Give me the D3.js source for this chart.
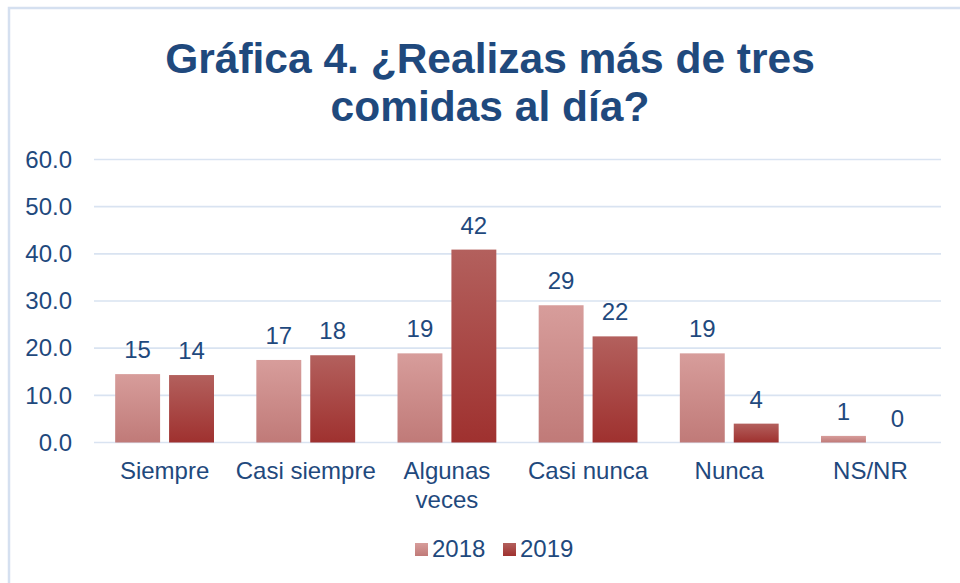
<!DOCTYPE html>
<html>
<head>
<meta charset="utf-8">
<script src="https://cdn.jsdelivr.net/npm/d3@7"></script>
<style>
    body { margin: 0; background: #fff; }
    text { font-family: "Liberation Sans", Arial, sans-serif; fill: #1f497d; }
</style>
</head>
<body>
<svg id="chart" width="960" height="583"></svg>
<script>
const categories = ['Siempre', 'Casi siempre', 'Algunas veces', 'Casi nunca', 'Nunca', 'NS/NR'];
const series = ['2018', '2019'];
const values2018 = [14.5, 17.5, 18.9, 29.1, 18.9, 1.4];
const values2019 = [14.3, 18.5, 40.9, 22.5, 4.0, 0];
const labels2018 = ['15', '17', '19', '29', '19', '1'];
const labels2019 = ['14', '18', '42', '22', '4', '0'];
const yTicks = [0, 10, 20, 30, 40, 50, 60];
const titleLines = ['Gráfica 4. ¿Realizas más de tres', 'comidas al día?'];

const FONT = '24px';
const colors = {
    text: '#1f497d',
    grid: '#d9e3f1',
    frame: '#d5e0f0'
};
const gradients = {
    '2018': ['#d79d9b', '#c07a78'],
    '2019': ['#b3605d', '#9f312f']
};

const svg = d3.select('#chart');

// frame, only top and left edges show in the picture
svg.append('rect')
    .attr('x', 9).attr('y', 8)
    .attr('width', 1000).attr('height', 1000)
    .attr('fill', 'none')
    .attr('stroke', colors.frame)
    .attr('stroke-width', 2.5);

const defs = svg.append('defs');
series.forEach(s => {
    let g = defs.append('linearGradient')
        .attr('id', 'grad' + s)
        .attr('x1', 0).attr('y1', 0).attr('x2', 0).attr('y2', 1);
    g.append('stop').attr('offset', '0%').attr('stop-color', gradients[s][0]);
    g.append('stop').attr('offset', '100%').attr('stop-color', gradients[s][1]);
});

// title
svg.append('text')
    .attr('x', 490).attr('y', 73)
    .attr('text-anchor', 'middle')
    .style('font-size', '42.5px')
    .style('font-weight', 'bold')
    .selectAll('tspan')
    .data(titleLines)
    .join('tspan')
    .attr('x', 490)
    .attr('dy', (d, i) => i ? 48 : 0)
    .text(d => d);

const plotLeft = 94, plotRight = 941, plotTop = 159.5, plotBottom = 442.5;

const y = d3.scaleLinear().domain([0, 60]).range([plotBottom, plotTop]);
const x0 = d3.scaleBand().domain(categories).range([plotLeft, plotRight])
    .paddingInner(0.3).paddingOuter(0.15);
const x1 = d3.scaleBand().domain(series).range([0, x0.bandwidth()])
    .paddingInner(0.1667);

// gridlines
svg.append('g')
    .selectAll('line')
    .data(yTicks)
    .join('line')
    .attr('x1', plotLeft).attr('x2', plotRight)
    .attr('y1', d => y(d)).attr('y2', d => y(d))
    .attr('stroke', colors.grid)
    .attr('stroke-width', 1.6);

// y axis labels
const yAxis = svg.append('g')
    .attr('transform', `translate(${plotLeft},0)`)
    .call(d3.axisLeft(y).tickValues(yTicks).tickFormat(d3.format('.1f')).tickSize(0).tickPadding(22));
yAxis.select('.domain').remove();
yAxis.selectAll('text')
    .style('font-size', FONT)
    .style('fill', colors.text)
    .attr('font-family', null);

// bars
const rows = categories.map((c, i) => ({
    category: c,
    bars: [
        {series: '2018', value: values2018[i], label: labels2018[i]},
        {series: '2019', value: values2019[i], label: labels2019[i]}
    ]
}));

const groups = svg.append('g')
    .selectAll('g')
    .data(rows)
    .join('g')
    .attr('transform', d => `translate(${x0(d.category)},0)`);

groups.selectAll('rect')
    .data(d => d.bars)
    .join('rect')
    .attr('x', d => x1(d.series))
    .attr('y', d => y(d.value))
    .attr('width', x1.bandwidth())
    .attr('height', d => y(0) - y(d.value))
    .attr('fill', d => `url(#grad${d.series})`);

groups.selectAll('text')
    .data(d => d.bars)
    .join('text')
    .attr('x', d => x1(d.series) + x1.bandwidth() / 2)
    .attr('y', d => y(d.value) - 16)
    .attr('text-anchor', 'middle')
    .style('font-size', FONT)
    .text(d => d.label);

// category labels
const xLabels = svg.append('g')
    .selectAll('text')
    .data(categories)
    .join('text')
    .attr('text-anchor', 'middle')
    .attr('y', 479)
    .style('font-size', FONT);
xLabels.each(function(d) {
    let lines = d === 'Algunas veces' ? ['Algunas', 'veces'] : [d];
    d3.select(this).selectAll('tspan')
        .data(lines)
        .join('tspan')
        .attr('x', x0(d) + x0.bandwidth() / 2)
        .attr('dy', (t, i) => i ? 29 : 0)
        .text(t => t);
});

// legend
const legend = svg.append('g')
    .selectAll('g')
    .data(series)
    .join('g')
    .attr('transform', (d, i) => `translate(${415 + i * 88},543)`);
legend.append('rect')
    .attr('width', 13).attr('height', 13)
    .attr('fill', d => `url(#grad${d})`);
legend.append('text')
    .attr('x', 17).attr('y', 14)
    .style('font-size', FONT)
    .text(d => d);
</script>
</body>
</html>
